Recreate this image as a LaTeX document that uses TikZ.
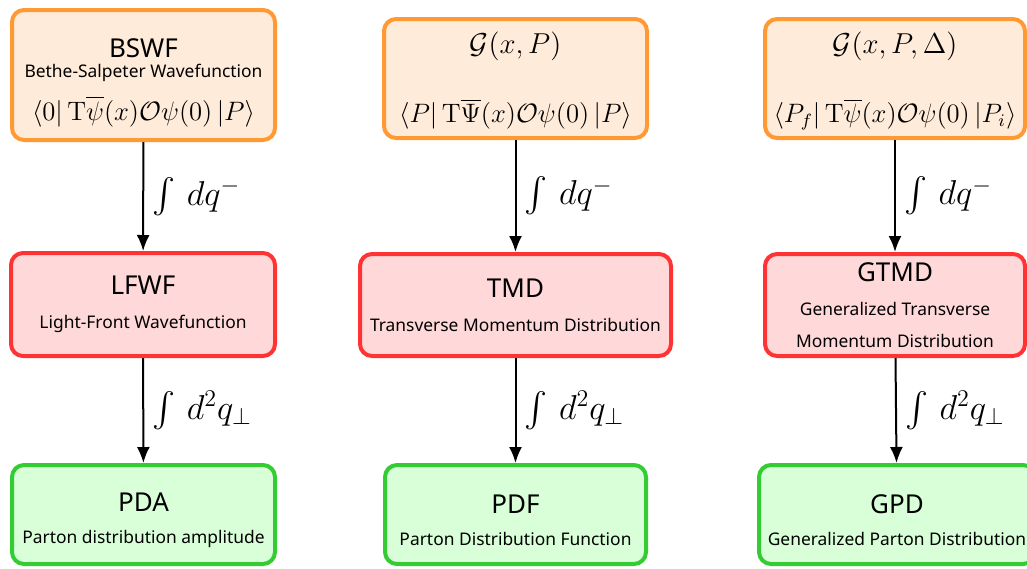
\documentclass[tikz,border=0pt]{standalone}
\usepackage{amsmath}
\usepackage{graphicx}
\usepackage[no-math]{fontspec}
\setmainfont{Noto Sans}
\usetikzlibrary{arrows.meta,positioning}

\definecolor{ampline}{RGB}{255,153,51}
\definecolor{ampfill}{RGB}{255,235,217}
\definecolor{tmdline}{RGB}{255,51,51}
\definecolor{tmdfill}{RGB}{255,217,217}
\definecolor{pdfline}{RGB}{51,204,51}
\definecolor{pdffill}{RGB}{217,255,217}

\newcommand{\boxtitle}[1]{{\fontsize{13}{15}\selectfont #1}}
\newcommand{\boxmath}[1]{{\fontsize{12}{14}\selectfont\scalebox{1.11}{$#1$}}}
\newcommand{\corrtitle}[1]{{\fontsize{14.4}{18}\selectfont $#1$}}

\begin{document}
\begin{tikzpicture}[x=0.5pt,y=-0.5pt]

\tikzstyle{dist} = [rectangle, draw, rounded corners=6pt, line width=2pt, align=center, minimum width=131.5pt, inner sep=0pt, font=\fontsize{8.7}{10}\selectfont, text=black]
\tikzstyle{ampbox} = [dist, draw=ampline, fill=ampfill, minimum height=59.5pt]
\tikzstyle{tmdbox} = [dist, draw=tmdline, fill=tmdfill, minimum height=51pt]
\tikzstyle{pdfbox} = [dist, draw=pdfline, fill=pdffill, minimum height=49.5pt]
\tikzstyle{intarc} = [-{Latex[length=8pt,width=6.5pt]}, line width=1pt, black]
\tikzstyle{intlabel} = [right, font=\fontsize{17.28}{20}\selectfont, inner sep=4pt]

\clip (0,0) rectangle (1027,568);

% amplitudes / correlators
\node[ampbox, minimum height=65pt] (bswf) at (143.5,75) {\rule{0pt}{17pt}\boxtitle{BSWF}\\[0pt]Bethe-Salpeter Wavefunction\\[6.5pt]\boxmath{\langle 0|\,\mathrm{T}\overline{\psi}(x)\mathcal{O}\psi(0)\,|P\rangle}};
\node[ampbox] (corrtmd) at (515.5,78.5) {\rule{0pt}{13pt}\corrtitle{\mathcal{G}(x,P)}\\[18pt]\boxmath{\langle P|\,\mathrm{T}\overline{\Psi}(x)\mathcal{O}\psi(0)\,|P\rangle}};
\node[ampbox, minimum width=130pt] (corrgtmd) at (895,78.5) {\rule{0pt}{13pt}\corrtitle{\mathcal{G}(x,P,\Delta)}\\[18pt]\boxmath{\langle P_f|\,\mathrm{T}\overline{\psi}(x)\mathcal{O}\psi(0)\,|P_i\rangle}};

% unintegrated distributions
\node[tmdbox, minimum width=132pt, minimum height=51.5pt] (lfwf) at (143,304.5) {\boxtitle{LFWF}\\[7pt]Light-Front Wavefunction};
\node[tmdbox, minimum width=155.5pt] (tmd) at (515.5,305) {\boxtitle{TMD}\\[7pt]Transverse Momentum Distribution};
\node[tmdbox, minimum width=130pt] (gtmd) at (895,305) {\boxtitle{GTMD}\\[7pt]Generalized Transverse\\[6pt]Momentum Distribution};

% collinear distributions
\node[pdfbox] (pda) at (143.5,514.5) {\rule{0pt}{15pt}\boxtitle{PDA}\\[6pt]Parton distribution amplitude};
\node[pdfbox, minimum width=130.5pt] (pdf) at (515.5,514.5) {\rule{0pt}{15pt}\boxtitle{PDF}\\[6pt]Parton Distribution Function};
\node[pdfbox, minimum width=138pt] (gpd) at (897,514.5) {\rule{0pt}{15pt}\boxtitle{GPD}\\[6pt]Generalized Parton Distribution};

\draw[intarc] (bswf) -- node[intlabel] {$\int\, dq^{-}$} (lfwf);
\draw[intarc] (corrtmd) -- node[intlabel] {$\int\, dq^{-}$} (tmd);
\draw[intarc] (corrgtmd) -- node[intlabel] {$\int\, dq^{-}$} (gtmd);

\draw[intarc] (lfwf) -- node[intlabel] {$\int\, d^2q_\perp$} (pda);
\draw[intarc] (tmd) -- node[intlabel] {$\int\, d^2q_\perp$} (pdf);
\draw[intarc] (gtmd) -- node[intlabel] {$\int\, d^2q_\perp$} (gpd);

\end{tikzpicture}
\end{document}
